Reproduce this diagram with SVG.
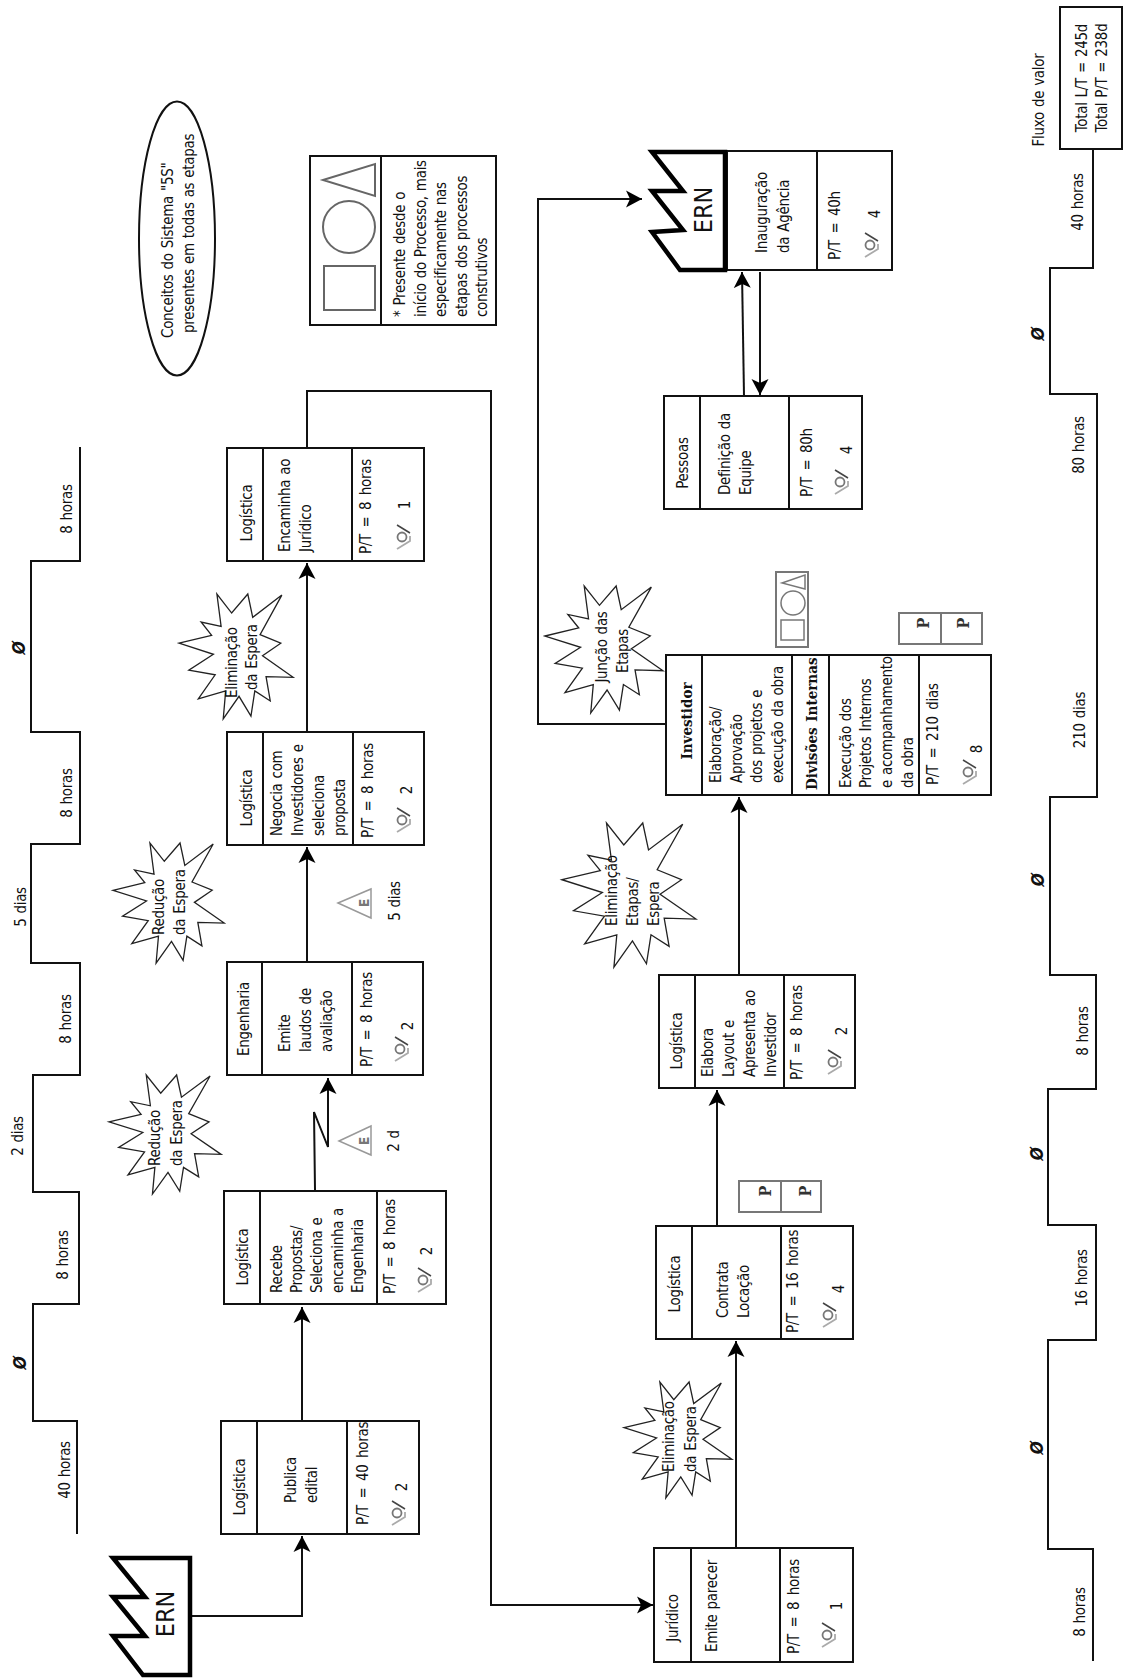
<svg xmlns="http://www.w3.org/2000/svg" width="1127" height="1679" viewBox="0 0 1127 1679">
<style>
text{font-family:"DejaVu Sans",sans-serif;font-stretch:condensed;font-size:15px;letter-spacing:-.3px;word-spacing:1px;fill:#111}
.m{text-anchor:middle}
.pt{word-spacing:2.5px}
.b{font-family:"DejaVu Serif","Liberation Serif",serif;font-weight:bold;font-size:15px;letter-spacing:0}
.box{fill:#fff;stroke:#111;stroke-width:2}
.ln{fill:none;stroke:#111;stroke-width:2}
.fac{fill:#fff;stroke:#000;stroke-width:4.500}
.star{fill:#fff;stroke:#222;stroke-width:1.3;vector-effect:non-scaling-stroke}
.con{fill:none;stroke:#111;stroke-width:2;marker-end:url(#arr)}
.gr{fill:none;stroke:#666;stroke-width:2}
.tri{fill:none;stroke:#999;stroke-width:1.500}
.e{font-weight:bold;fill:#777;font-size:14px;text-anchor:middle}
.p{font-family:"DejaVu Serif",serif;font-weight:bold;font-size:16px;text-anchor:middle;fill:#333;letter-spacing:0}
.ern{font-size:25px;text-anchor:middle;letter-spacing:0}
.z{font-family:"DejaVu Sans",sans-serif;font-weight:bold;font-style:italic;font-size:17px;text-anchor:middle}
</style>
<defs>
<marker id="arr" markerUnits="userSpaceOnUse" markerWidth="17" markerHeight="18" refX="16" refY="9" orient="auto"><path d="M16,9 L0,0.5 L4,9 L0,17.5 Z" fill="#000"/></marker>
<polygon id="star" class="star" points="0,137 93,115 63,78 120,90 108,0 150,53 196,0 210,65 293,3 231,113 290,137 238,172 325,232 248,230 260,298 216,270 205,340 171,285 126,348 133,270 55,292 103,225 28,212 98,168"/>
<g id="eye"><path d="M-5,-12 L8,-4" fill="none" stroke="#444" stroke-width="1.500"/><circle r="4.500" fill="none" stroke="#777" stroke-width="1.800"/><path d="M8,-1 V4 L-5,12" fill="none" stroke="#aaa" stroke-width="1.800"/></g>
</defs>
<rect width="1127" height="1679" fill="#fff"/>

<g id="connectors">
<path class="con" d="M190,1616 H302 V1536"/>
<path class="con" d="M302,1421 V1307"/>
<path class="con" d="M315,1190 L314,1112 L328,1147 V1078"/>
<path class="con" d="M307,962 V847"/>
<path class="con" d="M307,732 V563"/>
<path class="con" d="M307,448 V391 H491 V1605 H653"/>
<path class="con" d="M736,1548 V1341"/>
<path class="con" d="M717,1226 V1090"/>
<path class="con" d="M739,975 V797"/>
<path class="con" d="M666,724 H538 V199 H642"/>
<path class="con" d="M744,396 L742,272"/>
<path class="con" d="M760,272 V395"/>
</g>

<g id="timeline-left">
<path class="ln" d="M77,1534 V1421 H33 V1304 H79 V1192 H33 V1075 H80 V963 H31 V844 H80 V732 H31 V561 H80 V447"/>
<text class="m" transform="translate(70,1470) rotate(-90)">40 horas</text>
<text class="z" transform="translate(26,1363) rotate(-90)">Ø</text>
<text class="m" transform="translate(68,1255) rotate(-90)">8 horas</text>
<text class="m" transform="translate(23,1136) rotate(-90)">2 dias</text>
<text class="m" transform="translate(71,1019) rotate(-90)">8 horas</text>
<text class="m" transform="translate(26,907) rotate(-90)">5 dias</text>
<text class="m" transform="translate(72,793) rotate(-90)">8 horas</text>
<text class="z" transform="translate(25,648) rotate(-90)">Ø</text>
<text class="m" transform="translate(72,509) rotate(-90)">8 horas</text>
</g>

<g id="timeline-right">
<path class="ln" d="M1093,1661 V1549 H1048 V1340 H1096 V1225 H1048 V1089 H1096 V975 H1050 V797 H1097 V394 H1050 V268 H1093 V149"/>
<text class="m" transform="translate(1085,1612) rotate(-90)">8 horas</text>
<text class="z" transform="translate(1043,1448) rotate(-90)">Ø</text>
<text class="m" transform="translate(1087,1278) rotate(-90)">16 horas</text>
<text class="z" transform="translate(1043,1154) rotate(-90)">Ø</text>
<text class="m" transform="translate(1088,1031) rotate(-90)">8 horas</text>
<text class="z" transform="translate(1044,880) rotate(-90)">Ø</text>
<text class="m" transform="translate(1085,720) rotate(-90)">210 dias</text>
<text class="m" transform="translate(1084,445) rotate(-90)">80 horas</text>
<text class="z" transform="translate(1044,334) rotate(-90)">Ø</text>
<text class="m" transform="translate(1083,202) rotate(-90)">40 horas</text>
<text class="m" transform="translate(1044,100) rotate(-90)">Fluxo de valor</text>
</g>

<g id="total">
<rect class="box" x="1060" y="7" width="62" height="142"/>
<text class="m" transform="translate(1087,78) rotate(-90)">Total L/T = 245d</text>
<text class="m" transform="translate(1107,78) rotate(-90)">Total P/T = 238d</text>
</g>

<g id="ern-start">
<polygon class="fac" points="190,1558 113,1558 145,1597 113,1597 145,1636 113,1636 143,1675 190,1675"/>
<text class="ern" transform="translate(174,1614) rotate(-90)">ERN</text>
</g>

<g id="publica">
<rect class="box" x="221" y="1421" width="198" height="113"/>
<path class="ln" d="M257,1421 V1534 M347,1421 V1534"/>
<text class="m" transform="translate(245,1487) rotate(-90)">Logística</text>
<text transform="translate(296,1503) rotate(-90)">Publica</text>
<text transform="translate(317,1503) rotate(-90)">edital</text>
<text class="pt" transform="translate(368,1525) rotate(-90)">P/T = 40 horas</text>
<use href="#eye" x="397" y="1513"/>
<text class="m" transform="translate(407,1487) rotate(-90)">2</text>
</g>

<g id="recebe">
<rect class="box" x="224" y="1191" width="222" height="113"/>
<path class="ln" d="M260,1191 V1304 M377,1191 V1304"/>
<text class="m" transform="translate(248,1257) rotate(-90)">Logística</text>
<text transform="translate(282,1293) rotate(-90)">Recebe</text>
<text transform="translate(302,1293) rotate(-90)">Propostas/</text>
<text transform="translate(322,1293) rotate(-90)">Seleciona e</text>
<text transform="translate(343,1293) rotate(-90)">encaminha a</text>
<text transform="translate(363,1293) rotate(-90)">Engenharia</text>
<text class="pt" transform="translate(395,1294) rotate(-90)">P/T = 8 horas</text>
<use href="#eye" x="423" y="1280"/>
<text class="m" transform="translate(432,1251) rotate(-90)">2</text>
</g>

<g id="emite">
<rect class="box" x="227" y="962" width="196" height="113"/>
<path class="ln" d="M262,962 V1075 M352,962 V1075"/>
<text class="m" transform="translate(249,1019) rotate(-90)">Engenharia</text>
<text transform="translate(290,1052) rotate(-90)">Emite</text>
<text transform="translate(311,1052) rotate(-90)">laudos de</text>
<text transform="translate(332,1052) rotate(-90)">avaliação</text>
<text class="pt" transform="translate(372,1067) rotate(-90)">P/T = 8 horas</text>
<use href="#eye" x="400" y="1049"/>
<text class="m" transform="translate(413,1026) rotate(-90)">2</text>
</g>

<g id="negocia">
<rect class="box" x="227" y="732" width="197" height="113"/>
<path class="ln" d="M263,732 V845 M353,732 V845"/>
<text class="m" transform="translate(252,798) rotate(-90)">Logística</text>
<text transform="translate(282,836) rotate(-90)">Negocia com</text>
<text transform="translate(303,836) rotate(-90)">Investidores e</text>
<text transform="translate(324,836) rotate(-90)">seleciona</text>
<text transform="translate(345,836) rotate(-90)">proposta</text>
<text class="pt" transform="translate(373,838) rotate(-90)">P/T = 8 horas</text>
<use href="#eye" x="402" y="820"/>
<text class="m" transform="translate(412,790) rotate(-90)">2</text>
</g>

<g id="encaminha">
<rect class="box" x="227" y="448" width="197" height="113"/>
<path class="ln" d="M263,448 V561 M352,448 V561"/>
<text class="m" transform="translate(252,513) rotate(-90)">Logística</text>
<text transform="translate(290,552) rotate(-90)">Encaminha ao</text>
<text transform="translate(311,552) rotate(-90)">Jurídico</text>
<text class="pt" transform="translate(371,554) rotate(-90)">P/T = 8 horas</text>
<use href="#eye" x="402" y="537"/>
<text class="m" transform="translate(410,505) rotate(-90)">1</text>
</g>

<g id="ellipse-5s">
<ellipse cx="177" cy="238.500" rx="38" ry="137" fill="#fff" stroke="#111" stroke-width="2"/>
<text transform="translate(173,338) rotate(-90)">Conceitos do Sistema "5S"</text>
<text transform="translate(194,333) rotate(-90)">presentes em todas as etapas</text>
</g>

<g id="legend-5s">
<rect class="box" x="310" y="156" width="186" height="169"/>
<path class="ln" d="M381,156 V325"/>
<rect class="gr" x="324" y="266" width="51" height="44"/>
<circle class="gr" cx="349" cy="227" r="26"/>
<polygon class="gr" points="323,180 375,164 375,196"/>
<text transform="translate(405,317) rotate(-90)">* Presente desde o</text>
<text transform="translate(426,317) rotate(-90)">início do Processo, mais</text>
<text transform="translate(446,317) rotate(-90)">especificamente nas</text>
<text transform="translate(467,317) rotate(-90)">etapas dos processos</text>
<text transform="translate(487,317) rotate(-90)">construtivos</text>
</g>

<g id="juridico">
<rect class="box" x="654" y="1548" width="199" height="114"/>
<path class="ln" d="M691,1548 V1662 M780,1548 V1662"/>
<text class="m" transform="translate(678,1618) rotate(-90)">Jurídico</text>
<text transform="translate(717,1652) rotate(-90)">Emite parecer</text>
<text class="pt" transform="translate(799,1654) rotate(-90)">P/T = 8 horas</text>
<use href="#eye" x="827" y="1635"/>
<text class="m" transform="translate(842,1606) rotate(-90)">1</text>
</g>

<g id="contrata">
<rect class="box" x="656" y="1226" width="197" height="113"/>
<path class="ln" d="M692,1226 V1339 M781,1226 V1339"/>
<text class="m" transform="translate(680,1284) rotate(-90)">Logística</text>
<text transform="translate(728,1318) rotate(-90)">Contrata</text>
<text transform="translate(749,1318) rotate(-90)">Locação</text>
<text class="pt" transform="translate(798,1333) rotate(-90)">P/T = 16 horas</text>
<use href="#eye" x="828" y="1315"/>
<text class="m" transform="translate(844,1289) rotate(-90)">4</text>
</g>

<g id="kanban-contrata">
<rect x="739" y="1181" width="82" height="31" fill="#fff" stroke="#777" stroke-width="2"/>
<path d="M781,1181 V1212" stroke="#777" stroke-width="2" fill="none"/>
<text class="p" transform="translate(771,1191) rotate(-90)">P</text>
<text class="p" transform="translate(811,1191) rotate(-90)">P</text>
</g>

<g id="elabora">
<rect class="box" x="659" y="975" width="196" height="113"/>
<path class="ln" d="M695,975 V1088 M784,975 V1088"/>
<text class="m" transform="translate(682,1041) rotate(-90)">Logística</text>
<text transform="translate(713,1077) rotate(-90)">Elabora</text>
<text transform="translate(734,1077) rotate(-90)">Layout e</text>
<text transform="translate(755,1077) rotate(-90)">Apresenta ao</text>
<text transform="translate(776,1077) rotate(-90)">Investidor</text>
<text class="pt" transform="translate(802,1080) rotate(-90)">P/T = 8 horas</text>
<use href="#eye" x="833" y="1062"/>
<text class="m" transform="translate(847,1031) rotate(-90)">2</text>
</g>

<g id="investidor">
<rect class="box" x="666" y="655" width="325" height="140"/>
<path class="ln" d="M702,655 V795 M792,655 V795 M829,655 V795 M919,655 V795"/>
<text class="m b" transform="translate(692,721) rotate(-90)">Investidor</text>
<text transform="translate(721,783) rotate(-90)">Elaboração/</text>
<text transform="translate(742,783) rotate(-90)">Aprovação</text>
<text transform="translate(762,783) rotate(-90)">dos projetos e</text>
<text transform="translate(783,783) rotate(-90)">execução da obra</text>
<text class="b" transform="translate(817,790) rotate(-90)">Divisões Internas</text>
<text transform="translate(851,788) rotate(-90)">Execução dos</text>
<text transform="translate(871,788) rotate(-90)">Projetos Internos</text>
<text transform="translate(892,788) rotate(-90)">e acompanhamento</text>
<text transform="translate(913,788) rotate(-90)">da obra</text>
<text class="pt" transform="translate(938,785) rotate(-90)">P/T = 210 dias</text>
<use href="#eye" x="968" y="772"/>
<text class="m" transform="translate(982,749) rotate(-90)">8</text>
</g>

<g id="legend-5s-small">
<rect x="776" y="572" width="32" height="75" fill="#fff" stroke="#777" stroke-width="2"/>
<rect x="781" y="620" width="23" height="20" fill="none" stroke="#777" stroke-width="1.500"/>
<circle cx="793" cy="603" r="12" fill="none" stroke="#777" stroke-width="1.500"/>
<polygon points="782,583 805,575 805,589" fill="none" stroke="#777" stroke-width="1.500"/>
</g>

<g id="kanban-investidor">
<rect x="899" y="613" width="83" height="31" fill="#fff" stroke="#777" stroke-width="2"/>
<path d="M941,613 V644" stroke="#777" stroke-width="2" fill="none"/>
<text class="p" transform="translate(929,623) rotate(-90)">P</text>
<text class="p" transform="translate(969,623) rotate(-90)">P</text>
</g>

<g id="pessoas">
<rect class="box" x="664" y="396" width="198" height="113"/>
<path class="ln" d="M700,396 V509 M789,396 V509"/>
<text class="m" transform="translate(688,463) rotate(-90)">Pessoas</text>
<text transform="translate(730,495) rotate(-90)">Definição da</text>
<text transform="translate(751,495) rotate(-90)">Equipe</text>
<text class="pt" transform="translate(812,497) rotate(-90)">P/T = 80h</text>
<use href="#eye" x="840" y="482"/>
<text class="m" transform="translate(852,450) rotate(-90)">4</text>
</g>

<g id="inauguracao">
<rect class="box" x="727" y="151" width="165" height="119"/>
<path class="ln" d="M817,151 V270"/>
<text transform="translate(767,253) rotate(-90)">Inauguração</text>
<text transform="translate(789,253) rotate(-90)">da Agência</text>
<text class="pt" transform="translate(840,260) rotate(-90)">P/T = 40h</text>
<use href="#eye" x="870" y="245"/>
<text class="m" transform="translate(880,214) rotate(-90)">4</text>
<polygon class="fac" points="725,152 652,152 683,191 652,191 683,230 652,232 680,270 725,270"/>
<text class="ern" transform="translate(712,210) rotate(-90)">ERN</text>
</g>

<g id="wait-2d">
<polygon class="tri" points="339,1141 371,1126 371,1155"/>
<text class="e" transform="translate(369,1141) rotate(-90)">E</text>
<text class="m" transform="translate(399,1141) rotate(-90)">2 d</text>
</g>
<g id="wait-5d">
<polygon class="tri" points="338,903 371,889 371,918"/>
<text class="e" transform="translate(369,903) rotate(-90)">E</text>
<text class="m" transform="translate(400,901) rotate(-90)">5 dias</text>
</g>

<g id="kaizen-reducao-1">
<use href="#star" transform="translate(113,843) scale(.342,.345)"/>
<text transform="translate(164,935) rotate(-90)">Redução</text>
<text transform="translate(185,935) rotate(-90)">da Espera</text>
</g>
<g id="kaizen-reducao-2">
<use href="#star" transform="translate(109,1075) scale(.345,.342)"/>
<text transform="translate(160,1166) rotate(-90)">Redução</text>
<text transform="translate(182,1166) rotate(-90)">da Espera</text>
</g>
<g id="kaizen-eliminacao-1">
<use href="#star" transform="translate(179,594) scale(.351,.359)"/>
<text transform="translate(237,698) rotate(-90)">Eliminação</text>
<text transform="translate(257,690) rotate(-90)">da Espera</text>
</g>
<g id="kaizen-eliminacao-2">
<use href="#star" transform="translate(624,1382) scale(.332,.333)"/>
<text transform="translate(674,1472) rotate(-90)">Eliminação</text>
<text transform="translate(696,1472) rotate(-90)">da Espera</text>
</g>
<g id="kaizen-etapas">
<use href="#star" transform="translate(562,823) scale(.412,.414)"/>
<text transform="translate(617,926) rotate(-90)">Eliminação</text>
<text transform="translate(638,926) rotate(-90)">Etapas/</text>
<text transform="translate(659,926) rotate(-90)">Espera</text>
</g>
<g id="kaizen-juncao">
<use href="#star" transform="translate(545,586) scale(.363,.365)"/>
<text class="m" transform="translate(607,647) rotate(-90)">Junção das</text>
<text class="m" transform="translate(628,651) rotate(-90)">Etapas</text>
</g>
</svg>
